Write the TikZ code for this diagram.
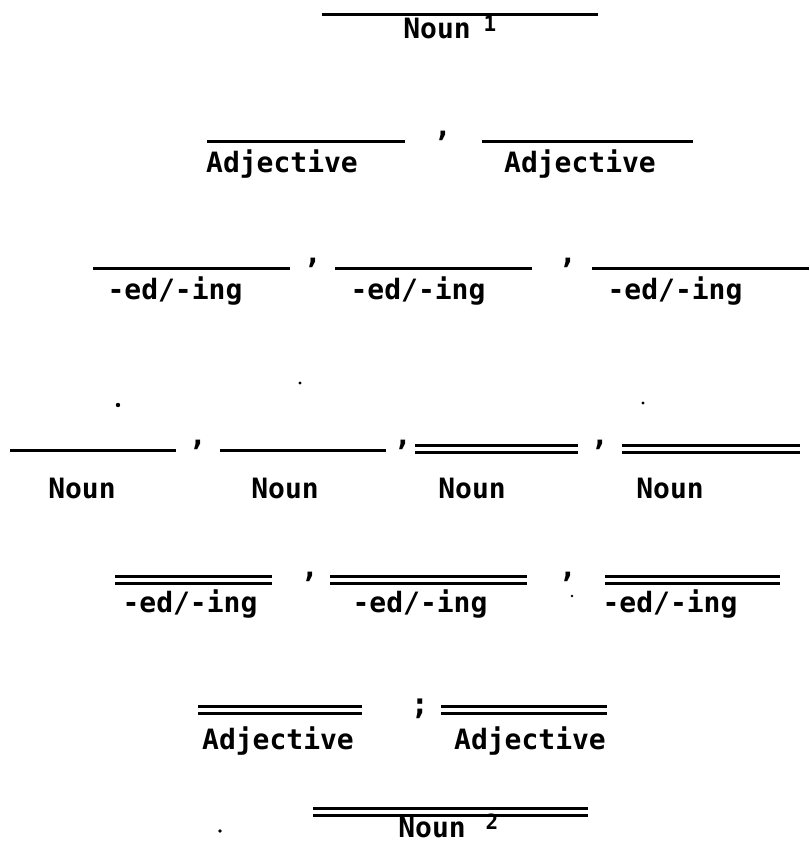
\documentclass[tikz,border=0pt]{standalone}
\usepackage{fontspec}
\setmonofont{DejaVu Sans Mono}
\begin{document}
\begin{tikzpicture}[x=1pt,y=-1pt,
  lbl/.style={font=\ttfamily\bfseries\fontsize{28}{28}\selectfont, inner sep=0pt, anchor=base},
  sup/.style={font=\ttfamily\bfseries\fontsize{21}{21}\selectfont, inner sep=0pt, anchor=base},
  sep/.style={font=\ttfamily\bfseries\fontsize{30}{30}\selectfont, inner sep=0pt, anchor=base},
  single/.style={line width=3pt},
  dbl/.style={line width=2.2pt},
  speck/.style={fill=black}]
\useasboundingbox (0,0) rectangle (809,845);
% single rule
\newcommand{\blank}[3]{\draw[single] (#1,#3) -- (#2,#3);}
% double rule
\newcommand{\dblank}[3]{\draw[dbl] (#1,#3-3.5) -- (#2,#3-3.5); \draw[dbl] (#1,#3+3.5) -- (#2,#3+3.5);}

% row 1
\blank{322}{598}{15}
\node[lbl] (n1) at (437,39) {Noun};
\node[sup] (s1) at (490,32) {1};

% row 2
\blank{207}{405}{142}
\blank{482}{693}{142}
\node[sep] (c21) at (443,137) {,};
\node[lbl] (a1) at (282,173) {Adjective};
\node[lbl] (a2) at (580,173) {Adjective};

% row 3
\blank{93}{290}{268}
\blank{335}{532}{268}
\blank{592}{809}{268}
\node[sep] (c31) at (313,263) {,};
\node[sep] (c32) at (568,263) {,};
\node[lbl] (e1) at (175,299) {-ed/-ing};
\node[lbl] (e2) at (418,299) {-ed/-ing};
\node[lbl] (e3) at (675,299) {-ed/-ing};

% row 4
\blank{10}{176}{450}
\blank{220}{386}{450}
\dblank{415}{578}{449}
\dblank{622}{800}{449}
\node[sep] (c41) at (198,445) {,};
\node[sep] (c42) at (403,445) {,};
\node[sep] (c43) at (600,445) {,};
\node[lbl] (m1) at (82,498) {Noun};
\node[lbl] (m2) at (285,498) {Noun};
\node[lbl] (m3) at (472,498) {Noun};
\node[lbl] (m4) at (670,498) {Noun};
\fill[speck] (118,405) circle (2.2);
\fill[speck] (300,383) circle (1.6);
\fill[speck] (643,403) circle (1.6);

% row 5
\dblank{115}{272}{580}
\dblank{330}{527}{580}
\dblank{605}{780}{580}
\node[sep] (c51) at (310,577) {,};
\node[sep] (c52) at (568,577) {,};
\fill[speck] (572,596) circle (1.4);
\node[lbl] (f1) at (190,612) {-ed/-ing};
\node[lbl] (f2) at (420,612) {-ed/-ing};
\node[lbl] (f3) at (670,612) {-ed/-ing};

% row 6
\dblank{198}{362}{710}
\dblank{441}{607}{710}
\node[sep] (c61) at (420,714) {;};
\node[lbl] (b1) at (278,749) {Adjective};
\node[lbl] (b2) at (530,749) {Adjective};

% row 7
\dblank{313}{588}{812}
\node[lbl] (n2) at (432,837) {Noun};
\node[sup] (s2) at (492,829) {2};
\fill[speck] (220,831) circle (1.8);
\end{tikzpicture}
\end{document}
